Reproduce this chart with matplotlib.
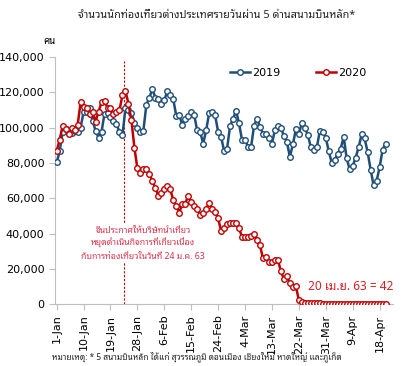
import numpy as np
import pandas as pd
import matplotlib
matplotlib.use('Agg')
import matplotlib.pyplot as plt
from matplotlib import font_manager
from matplotlib.ft2font import FT2Font
from matplotlib.lines import Line2D

days = pd.date_range('2020-01-01', '2020-04-20', freq='D')
tick_idx = list(range(0, len(days), 9))
tick_labels = [f'{days[i].day}-{days[i].strftime("%b")}' for i in tick_idx]

arrivals_2019 = [
    80300, 86700, 97600, 99000, 97600, 97000, 98000, 97600, 100000, 109000,
    108700, 111400, 104000, 98300, 94400, 97600, 108000, 108300, 106000, 104000,
    102000, 97600, 95700, 110900, 110000, 108300, 102600, 100000, 97600, 98300,
    113000, 116900, 122000, 116900, 116500, 113300, 115600, 120700, 118800, 116000,
    106700, 107000, 101800, 105000, 106800, 109000, 107000, 98500, 97600, 91000,
    98500, 108300, 109000, 107000, 97600, 94800, 86700, 88200, 101000, 105000,
    109600, 102400, 92900, 93300, 89100, 88800, 100900, 105200, 100500, 96700,
    96300, 94400, 91000, 98600, 100900, 100100, 95200, 92000, 83500, 90500,
    99000, 96300, 102700, 100100, 95800, 89100, 87300, 88800, 98000, 97600,
    94400, 86700, 80100, 81600, 85000, 88200, 94800, 82600, 76500, 78200,
    83100, 88800, 96300, 93900, 86300, 76300, 67400, 69700, 77500, 87300, 91000,
]
arrivals_2020 = [
    86900, 93300, 100900, 99500, 96300, 99900, 98600, 101400, 114300, 111800,
    111400, 108000, 108800, 103500, 109000, 114300, 115000, 111400, 110900, 108000,
    108800, 109900, 118400, 120700, 113700, 104300, 88600, 76900, 74400, 76500,
    76500, 73700, 69900, 66100, 61400, 63100, 65000, 67000, 65000, 59000,
    55700, 51900, 56500, 57000, 61400, 58000, 55500, 54200, 50800, 51400,
    54000, 57400, 54200, 52300, 48600, 41500, 43200, 45300, 46100, 46100,
    46100, 42900, 38100, 37800, 37800, 38500, 39500, 36300, 33400, 25900,
    26500, 24000, 24000, 24900, 24900, 18700, 14200, 15900, 11700, 9500,
    10200, 2300, 1000, 800, 700, 600, 520, 450, 400, 350,
    300, 280, 250, 220, 200, 180, 160, 150, 140, 130,
    120, 110, 100, 90, 80, 70, 65, 60, 55, 50, 42,
]


def pick_thai_family():
    found = set()
    for f in font_manager.fontManager.ttflist:
        try:
            if 0x0E01 in FT2Font(f.fname).get_charmap():
                found.add(f.name)
        except Exception:
            pass
    for name in ['Tahoma', 'Noto Sans Thai Looped', 'Noto Sans Thai', 'Leelawadee UI',
                 'Sarabun', 'IBM Plex Sans Thai Looped', 'IBM Plex Sans Thai', 'Anuphan']:
        if name in found:
            return name
    return sorted(found)[0] if found else 'DejaVu Sans'


thai_font = [pick_thai_family(), 'DejaVu Sans']

blue = '#1f4e79'
red = '#c00000'

fig = plt.figure(figsize=(4.19, 3.66), dpi=100)
ax = fig.add_axes([0.131, 0.169, 0.807, 0.675])

x = np.arange(len(days))
ax.plot(x, arrivals_2019, color=blue, lw=1.8, marker='o', ms=4,
        mfc='white', mec=blue, mew=1.0, zorder=3)
ax.plot(x, arrivals_2020, color=red, lw=1.8, marker='o', ms=4,
        mfc='white', mec=red, mew=1.0, zorder=4)

ax.axvline(22.5, ymax=0.985, color=red, lw=0.8, ls=(0, (2, 1.5)), zorder=2)
ax.text(28.9, 34600,
        'จีนประกาศให้บริษัทนำเที่ยว\nหยุดดำเนินกิจการที่เกี่ยวเนื่อง\nกับการท่องเที่ยวในวันที่ 24 ม.ค. 63',
        ha='center', va='center', color='#d9334a', fontsize=6.3, linespacing=1.45,
        family=thai_font,
        bbox=dict(facecolor='white', edgecolor='none', pad=1), zorder=5)
ax.text(98.4, 10200, '20 เม.ย. 63 = 42', ha='center', va='center',
        color='#d42020', fontsize=8.5, family=thai_font)

ax.set_xlim(-0.6, 112.5)
ax.set_ylim(0, 140000)
ax.set_yticks(np.arange(0, 140001, 20000))
ax.set_yticklabels([f'{v:,}' for v in range(0, 140001, 20000)], fontsize=8)
ax.set_xticks(tick_idx)
ax.set_xticklabels(tick_labels, rotation=90, fontsize=8)

for s in ['top', 'right']:
    ax.spines[s].set_visible(False)
for s in ['left', 'bottom']:
    ax.spines[s].set_color('#bfbfbf')
ax.tick_params(axis='both', colors='#bfbfbf', labelcolor='black', length=4)

handles = [
    Line2D([], [], color=blue, lw=1.8, marker='o', ms=4, mfc='white', mec=blue),
    Line2D([], [], color=red, lw=1.8, marker='o', ms=4, mfc='white', mec=red),
]
ax.legend(handles, ['2019', '2020'], loc='center', bbox_to_anchor=(0.72, 0.935),
          ncol=2, frameon=False, fontsize=8, handlelength=1.8,
          handletextpad=0.2, columnspacing=3.2)

fig.text(0.518, 1 - 15 / 366, 'จำนวนนักท่องเที่ยวต่างประเทศรายวันผ่าน 5 ด่านสนามบินหลัก*',
         ha='center', va='center', fontsize=7.8, fontweight='bold', color='#222222',
         family=thai_font)
fig.text(49 / 419, 1 - 42 / 366, 'คน', ha='center', va='center', fontsize=7,
         family=thai_font)
fig.text(52 / 419, 1 - 357 / 366,
         'หมายเหตุ: * 5 สนามบินหลัก ได้แก่ สุวรรณภูมิ ดอนเมือง เชียงใหม่ หาดใหญ่ และภูเก็ต',
         ha='left', va='center', fontsize=6, color='#222222', family=thai_font)

fig.savefig('out.png', dpi=100)
